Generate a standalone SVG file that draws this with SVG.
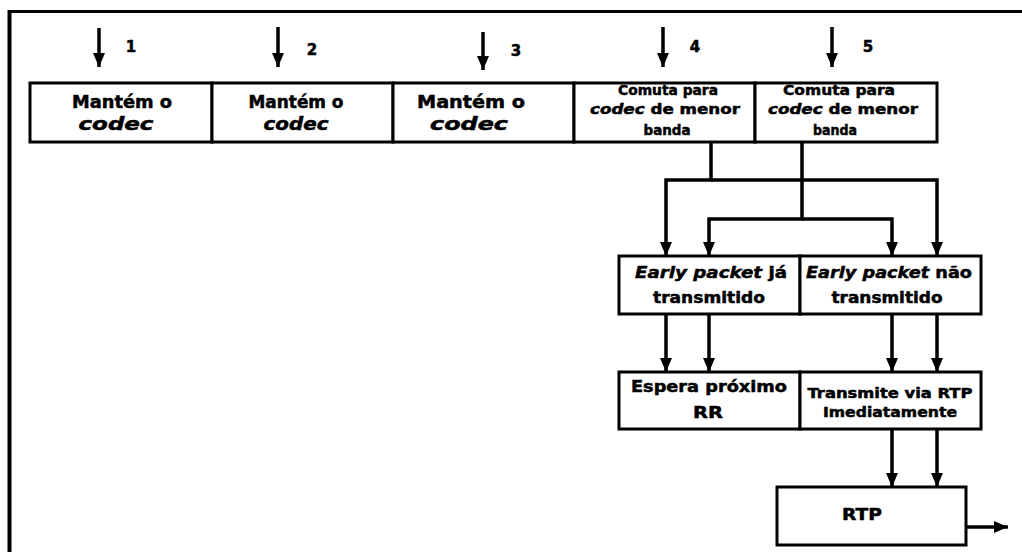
<svg xmlns="http://www.w3.org/2000/svg" width="1022" height="552" viewBox="0 0 1022 552">
  <style>
    .box { fill: #fff; stroke: #000; stroke-width: 3; }
    .frame { fill: none; stroke: #000; }
    .wire { fill: none; stroke: #000; stroke-width: 3.5; }
    .lbl { font-family: "DejaVu Sans", "Liberation Sans", sans-serif; font-weight: bold; fill: #000; stroke: #000; stroke-width: 0.5; text-anchor: middle; }
    .t17 { font-size: 17px; }
    .t16 { font-size: 16px; }
    .t15 { font-size: 15px; }
    .t14 { font-size: 14px; }
    .it { font-style: italic; }
  </style>
  <defs>
    <marker id="head" markerUnits="userSpaceOnUse" markerWidth="14" markerHeight="12" viewBox="0 -6 14 12" refX="14" refY="0" orient="auto">
      <path d="M0,-6 L14,0 L0,6 z" fill="#000"/>
    </marker>
  </defs>

  <rect width="1022" height="552" fill="#fff"/>

  <!-- outer frame: top edge and left edge -->
  <path class="frame" d="M8,11.5 H1022" stroke-width="3"/>
  <path class="frame" d="M9.5,10 V552" stroke-width="4"/>

  <!-- step markers 1..5 -->
  <g id="steps">
    <line class="wire" x1="99" y1="28" x2="99" y2="67" marker-end="url(#head)"/>
    <text class="lbl t15" x="131" y="52">1</text>
    <line class="wire" x1="278" y1="27" x2="278" y2="67" marker-end="url(#head)"/>
    <text class="lbl t15" x="312" y="55">2</text>
    <line class="wire" x1="483" y1="32" x2="483" y2="70" marker-end="url(#head)"/>
    <text class="lbl t15" x="516" y="56">3</text>
    <line class="wire" x1="663" y1="27" x2="663" y2="67" marker-end="url(#head)"/>
    <text class="lbl t15" x="695" y="52">4</text>
    <line class="wire" x1="832" y1="27" x2="832" y2="67" marker-end="url(#head)"/>
    <text class="lbl t15" x="868" y="52">5</text>
  </g>

  <!-- top row -->
  <g id="keep1">
    <rect class="box" x="30" y="83" width="182" height="59"/>
    <text class="lbl t17" x="122" y="108" textLength="100" lengthAdjust="spacingAndGlyphs">Mantém o</text>
    <text class="lbl t17 it" x="116" y="130" textLength="75" lengthAdjust="spacingAndGlyphs">codec</text>
  </g>
  <g id="keep2">
    <rect class="box" x="212" y="83" width="181" height="59"/>
    <text class="lbl t17" x="296" y="108" textLength="95" lengthAdjust="spacingAndGlyphs">Mantém o</text>
    <text class="lbl t17 it" x="296" y="130" textLength="65" lengthAdjust="spacingAndGlyphs">codec</text>
  </g>
  <g id="keep3">
    <rect class="box" x="393" y="83" width="181" height="59"/>
    <text class="lbl t17" x="471" y="108" textLength="108" lengthAdjust="spacingAndGlyphs">Mantém o</text>
    <text class="lbl t17 it" x="469" y="130" textLength="78" lengthAdjust="spacingAndGlyphs">codec</text>
  </g>
  <g id="switch4">
    <rect class="box" x="574" y="83" width="181" height="59"/>
    <text class="lbl t14" x="668" y="95" textLength="100" lengthAdjust="spacingAndGlyphs">Comuta para</text>
    <text class="lbl t14" x="665" y="114" textLength="150" lengthAdjust="spacingAndGlyphs"><tspan class="it">codec</tspan>  de menor</text>
    <text class="lbl t14" x="667" y="135" textLength="47" lengthAdjust="spacingAndGlyphs">banda</text>
  </g>
  <g id="switch5">
    <rect class="box" x="755" y="83" width="182" height="59"/>
    <text class="lbl t14" x="839" y="95" textLength="112" lengthAdjust="spacingAndGlyphs">Comuta para</text>
    <text class="lbl t14" x="843" y="114" textLength="150" lengthAdjust="spacingAndGlyphs"><tspan class="it">codec</tspan>  de menor</text>
    <text class="lbl t14" x="835" y="135" textLength="44" lengthAdjust="spacingAndGlyphs">banda</text>
  </g>

  <!-- middle row -->
  <g id="early-sent">
    <rect class="box" x="619" y="256" width="181" height="58"/>
    <text class="lbl t16" x="711" y="278" textLength="152" lengthAdjust="spacingAndGlyphs"><tspan class="it">Early packet</tspan> já</text>
    <text class="lbl t16" x="709" y="303" textLength="112" lengthAdjust="spacingAndGlyphs">transmitido</text>
  </g>
  <g id="early-unsent">
    <rect class="box" x="800" y="256" width="181" height="58"/>
    <text class="lbl t16" x="889" y="278" textLength="166" lengthAdjust="spacingAndGlyphs"><tspan class="it">Early packet</tspan> não</text>
    <text class="lbl t16" x="887" y="303" textLength="111" lengthAdjust="spacingAndGlyphs">transmitido</text>
  </g>

  <!-- lower row -->
  <g id="wait-rr">
    <rect class="box" x="619" y="372" width="181" height="57"/>
    <text class="lbl t16" x="709" y="392" textLength="156" lengthAdjust="spacingAndGlyphs">Espera próximo</text>
    <text class="lbl t16" x="708" y="418" textLength="30" lengthAdjust="spacingAndGlyphs">RR</text>
  </g>
  <g id="send-now">
    <rect class="box" x="800" y="372" width="181" height="57"/>
    <text class="lbl t14" x="890" y="398" textLength="165" lengthAdjust="spacingAndGlyphs">Transmite via RTP</text>
    <text class="lbl t14" x="890" y="417" textLength="134" lengthAdjust="spacingAndGlyphs">Imediatamente</text>
  </g>

  <g id="rtp">
    <rect class="box" x="777" y="487" width="189" height="58"/>
    <text class="lbl t16" x="862" y="520" textLength="40" lengthAdjust="spacingAndGlyphs">RTP</text>
  </g>

  <!-- connectors -->
  <g id="connectors">
    <path class="wire" d="M711,142 V180 H666 V256" marker-end="url(#head)"/>
    <path class="wire" d="M711,180 H937 V256" marker-end="url(#head)"/>
    <path class="wire" d="M802,142 V219 H709 V256" marker-end="url(#head)"/>
    <path class="wire" d="M802,219 H892 V256" marker-end="url(#head)"/>
    <path class="wire" d="M666,314 V372" marker-end="url(#head)"/>
    <path class="wire" d="M709,314 V372" marker-end="url(#head)"/>
    <path class="wire" d="M892,314 V372" marker-end="url(#head)"/>
    <path class="wire" d="M937,314 V372" marker-end="url(#head)"/>
    <path class="wire" d="M892,429 V487" marker-end="url(#head)"/>
    <path class="wire" d="M937,429 V487" marker-end="url(#head)"/>
    <path class="wire" d="M966,527 H1008" stroke-width="2.5" marker-end="url(#head)"/>
  </g>
</svg>
